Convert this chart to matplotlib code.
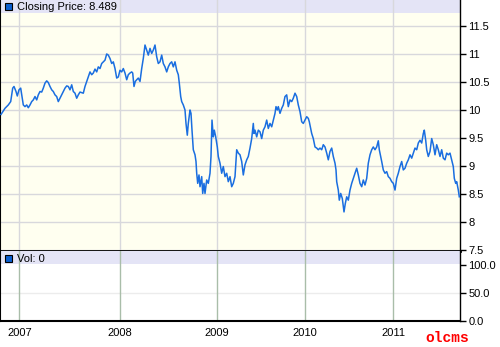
import numpy as np
import matplotlib
matplotlib.use('Agg')
import matplotlib.pyplot as plt
from matplotlib.patches import Rectangle
from matplotlib.ticker import FuncFormatter

# chart position (trading-session axis) and closing price
t = [1, 5, 8.3, 10.7, 12.7, 14, 16, 17.3, 19, 20.7, 22, 23.3, 25, 26.7, 28.3, 30,
     31.7, 33.3, 35, 36.7, 38.3, 40, 41.7, 43.3, 45, 46.7, 48.3, 50, 51.7, 53.3,
     55, 56.7, 58.3, 60, 61.7, 63.3, 65, 66.7, 68.3, 70, 71.7, 73.3, 75, 76.7,
     78.3, 80, 83.3, 85, 86.7, 88.3, 90, 91.7, 93.3, 95, 96.7, 98.3, 100, 101.7,
     103.3, 105, 106.7, 108.3, 110, 111.7, 113.3, 115, 116.7, 118.3, 120, 121.7,
     123.3, 125, 126.7, 128.3, 130, 131.7, 132.7, 134, 135.3, 136.7, 138.3, 140,
     141.7, 143.3, 145, 146.7, 148.3, 150, 151.7, 153.3, 155, 156.7, 158.3, 160,
     161.7, 163.3, 165, 166.7, 168.3, 170, 171.7, 173.3, 175, 176.7, 178.3, 179.3,
     180.7, 181.7, 183.3, 185, 186, 187.3, 188.3, 190, 191, 192, 193.3, 195, 196,
     196.7, 197.7, 199, 200, 201.7, 202.7, 204, 205, 206.7, 208.3, 210, 211, 212,
     213.3, 214.3, 215.7, 217.3, 218.3, 220, 221.7, 223.3, 225, 226.7, 228.3, 230,
     231.7, 233.3, 235, 236.7, 238.3, 240, 241.7, 243.3, 245, 246.7, 248.3, 250,
     251.7, 253.3, 254, 255, 256.7, 258.3, 260, 261.7, 263.3, 265, 266.7, 268.3,
     270, 271.7, 273.3, 275, 276, 277.3, 278.3, 280, 281.7, 283.3, 285, 286.7,
     288.3, 290, 291.7, 293.3, 295, 296.7, 298.3, 300, 301.7, 303.3, 305, 306.7,
     308.3, 309.3, 310.7, 311.7, 313.3, 315, 316.7, 318.3, 320, 321.7, 323.3, 325,
     326.7, 328.3, 330, 331.7, 333.3, 335, 336, 336.7, 338.3, 339.3, 340.7, 342.3,
     344, 345.3, 346.7, 348.3, 350, 351.7, 353.3, 355, 356.7, 358.3, 360, 361.7,
     363.3, 365, 366.7, 368.3, 370, 371.7, 373.3, 375, 376.7, 378.3, 379.3, 380.7,
     381.7, 383.3, 385, 386.7, 388.3, 390, 391.7, 393.3, 395, 396.7, 398.3, 400,
     401.7, 403.3, 405, 406.7, 408.3, 410, 411.7, 413.3, 415, 416.7, 418.3, 420,
     421.7, 423.3, 424.3, 425.7, 426.7, 428.3, 430, 431.7, 433.3, 435, 436.7,
     438.3, 440, 441.7, 443.3, 445, 446.7, 448.3, 450, 451.7, 453.3, 454.3, 455.7,
     456.7, 458.3, 459.3]
close = [9.92, 10.03, 10.09, 10.15, 10.39, 10.42, 10.33, 10.25, 10.36, 10.39, 10.24,
         10.09, 10.06, 10.09, 10.04, 10.09, 10.15, 10.18, 10.24, 10.18, 10.27, 10.33,
         10.32, 10.39, 10.48, 10.52, 10.49, 10.42, 10.36, 10.33, 10.27, 10.24, 10.15,
         10.21, 10.27, 10.33, 10.39, 10.43, 10.42, 10.36, 10.45, 10.33, 10.30, 10.21,
         10.27, 10.32, 10.30, 10.42, 10.51, 10.59, 10.68, 10.63, 10.66, 10.73, 10.68,
         10.77, 10.74, 10.83, 10.86, 10.89, 11.00, 10.98, 10.92, 10.83, 10.86, 10.74,
         10.57, 10.59, 10.71, 10.68, 10.74, 10.66, 10.54, 10.63, 10.66, 10.68, 10.66,
         10.42, 10.51, 10.54, 10.57, 10.51, 10.74, 10.92, 11.16, 11.07, 10.98, 11.10,
         11.01, 11.07, 11.16, 10.95, 10.83, 10.86, 10.98, 10.83, 10.77, 10.68, 10.77,
         10.83, 10.86, 10.77, 10.86, 10.71, 10.63, 10.48, 10.24, 10.15, 10.09, 10.00,
         9.76, 9.55, 9.76, 10.00, 9.94, 9.64, 9.29, 9.20, 9.08, 8.87, 8.69, 8.84,
         8.63, 8.81, 8.51, 8.69, 8.51, 8.75, 8.69, 8.87, 9.17, 9.82, 9.52, 9.64,
         9.52, 9.34, 9.17, 9.05, 8.87, 8.99, 8.81, 8.87, 8.72, 8.81, 8.63, 8.69,
         8.81, 9.29, 9.23, 9.20, 9.08, 8.84, 9.02, 9.11, 9.17, 9.32, 9.49, 9.76,
         9.58, 9.64, 9.52, 9.64, 9.61, 9.49, 9.64, 9.70, 9.82, 9.67, 9.76, 9.70,
         9.82, 9.94, 10.06, 10.00, 10.06, 9.94, 10.03, 10.09, 10.24, 10.27, 10.06,
         10.18, 10.15, 10.21, 10.30, 10.24, 10.09, 9.97, 9.79, 9.76, 9.82, 9.88,
         9.85, 9.79, 9.67, 9.58, 9.49, 9.34, 9.32, 9.29, 9.32, 9.29, 9.38, 9.34,
         9.23, 9.11, 9.26, 9.32, 9.17, 9.05, 8.93, 8.72, 8.57, 8.39, 8.51, 8.42,
         8.18, 8.33, 8.45, 8.39, 8.57, 8.69, 8.78, 8.87, 8.96, 8.84, 8.69, 8.63,
         8.75, 8.66, 8.78, 9.05, 9.20, 9.29, 9.34, 9.29, 9.34, 9.45, 9.29, 9.17,
         9.08, 8.93, 8.87, 8.90, 8.81, 8.78, 8.72, 8.69, 8.57, 8.78, 8.87, 8.99,
         9.08, 8.93, 8.96, 9.05, 9.11, 9.20, 9.14, 9.23, 9.32, 9.29, 9.41, 9.46,
         9.41, 9.58, 9.64, 9.46, 9.29, 9.17, 9.26, 9.49, 9.38, 9.20, 9.38, 9.29,
         9.17, 9.29, 9.14, 9.11, 9.23, 9.20, 9.23, 9.11, 8.99, 8.78, 8.69, 8.72,
         8.57, 8.45]

year_pos = [19.3, 120.3, 216.7, 305.3, 393.3]
year_labels = ['2007', '2008', '2009', '2010', '2011']
price_ticks = [7.5, 8, 8.5, 9, 9.5, 10, 10.5, 11, 11.5]
vol_ticks = [0, 50, 100]
last_close = 8.489
volume = 0

plt.rcParams['font.family'] = ['Liberation Sans', 'DejaVu Sans']

fig = plt.figure(figsize=(5, 3.47), dpi=100)
fig.patch.set_facecolor('white')

ax = fig.add_axes([0.0, 1 - 251 / 347, 0.92, 251 / 347])
axv = fig.add_axes([0.0, 1 - 321 / 347, 0.92, 70 / 347])

# price panel
ax.set_facecolor('#fffff0')
ax.add_patch(Rectangle((0, 1 - 13 / 251), 1, 13 / 251, transform=ax.transAxes,
                       facecolor='#e4e4f6', edgecolor='none', zorder=0.1))
ax.plot(t, close, color='#1a6ee0', lw=1.1, zorder=3)
ax.set_xlim(0, 460)
ax.set_ylim(7.482, 11.964)
ax.set_yticks(price_ticks)
ax.yaxis.set_major_formatter(FuncFormatter(lambda v, p: '%g' % v))
ax.set_xticks(year_pos)
ax.set_axisbelow(True)
ax.grid(True, color='#d8d8dc', lw=1)
ax.yaxis.tick_right()
ax.tick_params(axis='y', length=4, width=1, pad=2, labelsize=8, direction='out')
ax.tick_params(axis='x', length=0, labelbottom=False)
ax.spines['top'].set_visible(False)
ax.spines['left'].set_linewidth(1.5)
ax.spines['right'].set_linewidth(1)
ax.spines['bottom'].set_linewidth(2)

# volume panel
axv.set_facecolor('white')
axv.add_patch(Rectangle((0, 1 - 13 / 70), 1, 13 / 70, transform=axv.transAxes,
                        facecolor='#e4e4f6', edgecolor='none', zorder=0.1))
axv.set_xlim(0, 460)
axv.set_ylim(0, 125)
axv.set_yticks(vol_ticks)
axv.yaxis.set_major_formatter(FuncFormatter(lambda v, p: '%.1f' % v))
axv.set_xticks(year_pos)
axv.set_xticklabels(year_labels)
axv.set_axisbelow(True)
axv.grid(True, axis='x', color='#a9bda9', lw=1)
axv.axhline(50, color='#ececec', lw=1, zorder=0.5)
axv.yaxis.tick_right()
axv.tick_params(axis='y', length=4, width=1, pad=2, labelsize=8, direction='out')
axv.tick_params(axis='x', length=0, pad=5, labelsize=8)
axv.spines['top'].set_visible(False)
axv.spines['left'].set_linewidth(1.5)
axv.spines['right'].set_linewidth(1)
axv.spines['bottom'].set_linewidth(1.5)

# legend boxes
for ytop, label in [(3, 'Closing Price: %.3f' % last_close), (255, 'Vol: %d' % volume)]:
    fig.add_artist(Rectangle((5 / 500, 1 - (ytop + 7) / 347), 7 / 500, 7 / 347,
                             transform=fig.transFigure, facecolor='#0a5fd0',
                             edgecolor='black', lw=0.8))
    fig.text(17 / 500, 1 - (ytop + 4) / 347, label, fontsize=8, va='center', ha='left')

fig.text(447 / 500, 1 - 338 / 347, 'olcms', color='red', fontsize=10.5,
         family='Liberation Mono', weight='bold', ha='center', va='center')

fig.savefig('out.png', dpi=100)
